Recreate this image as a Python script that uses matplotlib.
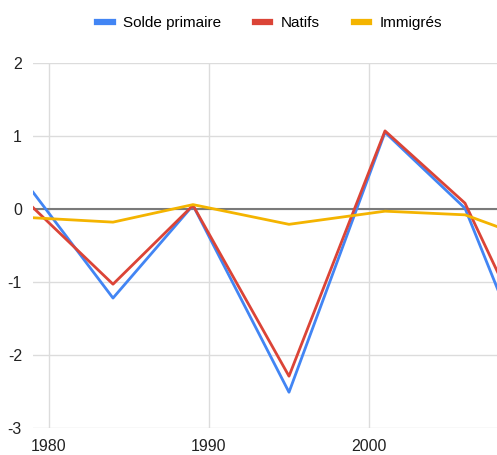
import matplotlib.pyplot as plt

plt.rcParams['font.family'] = ['Liberation Sans', 'DejaVu Sans']
plt.rcParams['axes.unicode_minus'] = False

# valeurs (dernier point hors cadre, estimé)
annees = [1979, 1984, 1989, 1995, 2001, 2006, 2012]
solde_primaire = [0.23, -1.22, 0.05, -2.51, 1.05, 0.01, -3.25]
natifs = [0.02, -1.03, 0.05, -2.29, 1.07, 0.08, -2.7]
immigres = [-0.12, -0.18, 0.06, -0.21, -0.03, -0.08, -0.56]

series = [
    ("Solde primaire", solde_primaire, "#4285F4"),
    ("Natifs", natifs, "#DB4437"),
    ("Immigrés", immigres, "#F4B400"),
]

fig = plt.figure(figsize=(4.97, 4.55), dpi=100)
ax = fig.add_axes([33 / 497, 27 / 455, 1 - 33 / 497, (428 - 63) / 455])

ax.axhline(0, color="#7a7a7a", lw=1.5, zorder=2)
for nom, vals, couleur in series:
    ax.plot(annees, vals, color=couleur, lw=2.0, label=nom, zorder=3)

ax.set_xlim(1979, 2008)
ax.set_ylim(-3, 2)
ax.set_xticks([1980, 1990, 2000])
ax.set_yticks([2, 1, 0, -1, -2, -3])
ax.grid(True, color="#dcdcdc", lw=1, zorder=0)
ax.set_axisbelow(True)
for s in ax.spines.values():
    s.set_visible(False)
ax.tick_params(length=0, labelsize=11.5, colors="#222222")
ax.tick_params(axis="y", pad=8)
ax.tick_params(axis="x", pad=8)

fig.legend(loc="upper center", bbox_to_anchor=(0.543, 0.995), ncol=3,
           frameon=False, fontsize=11, handlelength=1.0, columnspacing=2.2,
           handletextpad=0.7)
for h in fig.legends[0].get_lines():
    h.set_linewidth(4.5)

fig.savefig("out.png", dpi=100)
